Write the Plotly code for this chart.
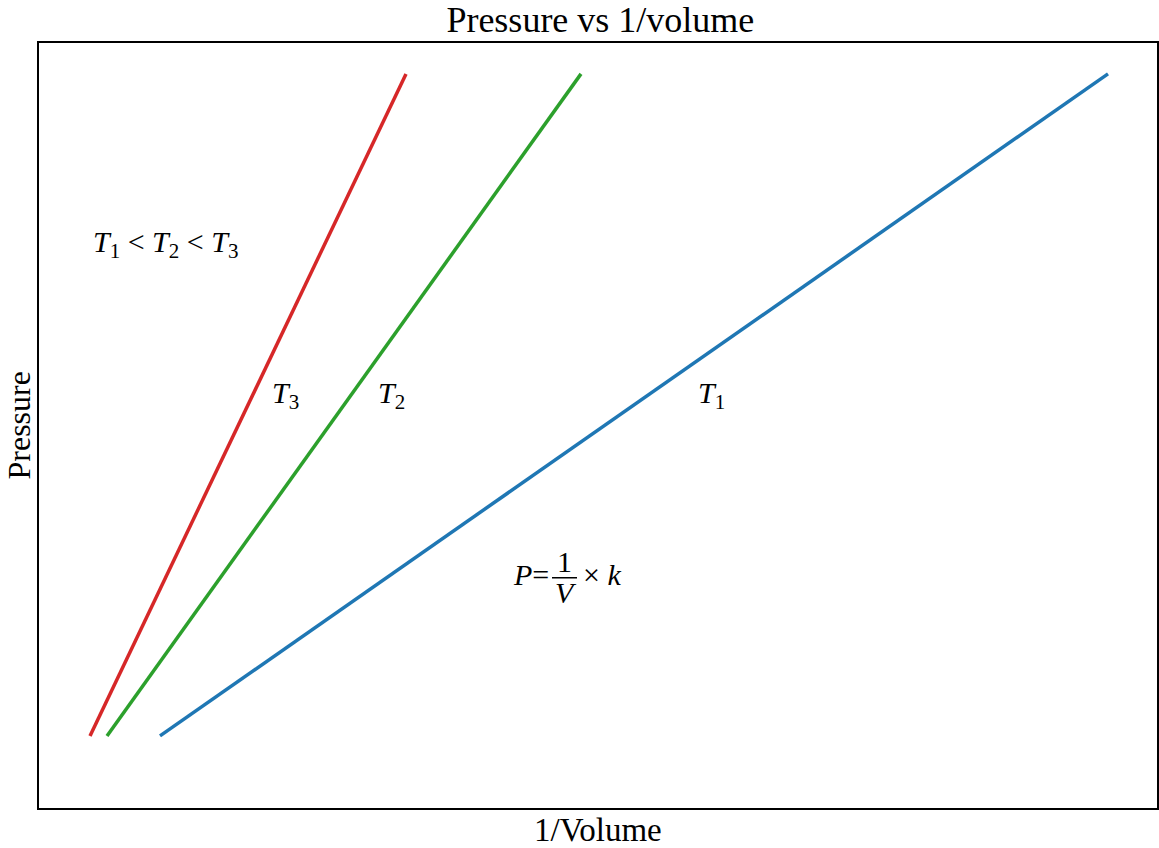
import plotly.graph_objects as go

# Data: pressure vs 1/volume for three temperatures
pressure = [1.0, 10.0]
inv_vol_T3 = [0.51, 3.67]
inv_vol_T2 = [0.68, 5.42]
inv_vol_T1 = [1.21, 10.69]
series_names = ["T3", "T2", "T1"]
colors = ["#d62728", "#2ca02c", "#1f77b4"]

FONT = "Liberation Serif"

fig = go.Figure()
for name, xs, c in zip(series_names, [inv_vol_T3, inv_vol_T2, inv_vol_T1], colors):
    fig.add_trace(go.Scatter(x=xs, y=pressure, mode="lines", name=name,
                             line=dict(color=c, width=3.5), showlegend=False))

ann_font = dict(family=FONT, size=30, color="black")
annotations = [
    dict(x=1.26, y=7.69, text="<i>T</i><sub>1</sub> < <i>T</i><sub>2</sub> < <i>T</i><sub>3</sub>"),
    dict(x=2.46, y=5.64, text="<i>T</i><sub>3</sub>"),
    dict(x=3.52, y=5.64, text="<i>T</i><sub>2</sub>"),
    dict(x=6.72, y=5.64, text="<i>T</i><sub>1</sub>"),
    dict(x=4.92, y=3.19, text="<i>P</i>="),
    dict(x=5.25, y=3.37, text="1"),
    dict(x=5.27, y=2.95, text="<i>V</i>"),
    dict(x=5.63, y=3.19, text="× <i>k</i>"),
]
for a in annotations:
    fig.add_annotation(x=a["x"], y=a["y"], text=a["text"], showarrow=False,
                       font=ann_font, xref="x", yref="y")

# fraction bar
fig.add_shape(type="line", x0=5.13, x1=5.38, y0=3.15, y1=3.15,
              xref="x", yref="y", line=dict(color="black", width=1.5))

# axis titles
fig.add_annotation(x=0.5, y=-22 / 765, xref="paper", yref="paper", text="1/Volume",
                   showarrow=False, font=dict(family=FONT, size=33, color="black"),
                   xanchor="center", yanchor="middle")
fig.add_annotation(x=-21 / 1118, y=0.5, xref="paper", yref="paper", text="Pressure",
                   showarrow=False, textangle=-90, font=dict(family=FONT, size=32, color="black"),
                   xanchor="center", yanchor="middle")

fig.update_layout(
    width=1159, height=848,
    margin=dict(l=39, r=2, t=43, b=40, autoexpand=False),
    plot_bgcolor="white", paper_bgcolor="white",
    title=dict(text="Pressure vs 1/volume", x=0.518, xanchor="center",
               y=1 - 19 / 848, yanchor="middle", font=dict(family=FONT, size=36, color="black")),
    xaxis=dict(range=[0, 11.18], showgrid=False, zeroline=False, showticklabels=False,
               ticks="", showline=True, linecolor="black", linewidth=2, mirror=True,
               automargin=False),
    yaxis=dict(range=[0.02, 10.42], showgrid=False, zeroline=False, showticklabels=False,
               ticks="", showline=True, linecolor="black", linewidth=2, mirror=True,
               automargin=False),
)

fig.write_html("out.html", config={"displayModeBar": False},
               post_script="document.body.style.margin='0';document.body.style.overflow='hidden';")
